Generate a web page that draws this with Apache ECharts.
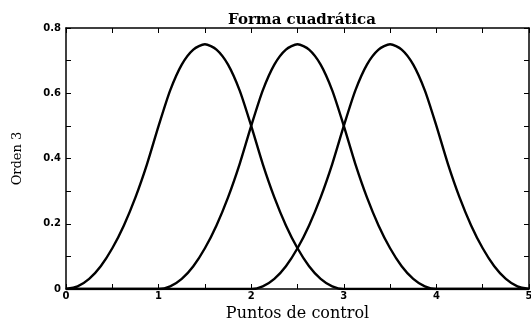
<!DOCTYPE html>
<html>
<head>
<meta charset="utf-8">
<script src="https://cdn.jsdelivr.net/npm/echarts@6/dist/echarts.min.js"></script>
<style>
  html, body { margin: 0; padding: 0; background: #fff; }
  #chart { width: 531px; height: 322px; }
</style>
</head>
<body>
<div id="chart"></div>
<script>
// Sample positions along the control-point axis (step 0.125)
const xs = [
  0, 0.125, 0.25, 0.375, 0.5, 0.625, 0.75, 0.875,
  1, 1.125, 1.25, 1.375, 1.5, 1.625, 1.75, 1.875,
  2, 2.125, 2.25, 2.375, 2.5, 2.625, 2.75, 2.875,
  3, 3.125, 3.25, 3.375, 3.5, 3.625, 3.75, 3.875,
  4, 4.125, 4.25, 4.375, 4.5, 4.625, 4.75, 4.875, 5
];

// Three quadratic basis functions (order 3)
const basis1 = [
  0, 0.008, 0.031, 0.070, 0.125, 0.195, 0.281, 0.383,
  0.5, 0.609, 0.688, 0.734, 0.75, 0.734, 0.688, 0.609,
  0.5, 0.383, 0.281, 0.195, 0.125, 0.070, 0.031, 0.008,
  0, 0, 0, 0, 0, 0, 0, 0,
  0, 0, 0, 0, 0, 0, 0, 0, 0
];
const basis2 = [
  0, 0, 0, 0, 0, 0, 0, 0,
  0, 0.008, 0.031, 0.070, 0.125, 0.195, 0.281, 0.383,
  0.5, 0.609, 0.688, 0.734, 0.75, 0.734, 0.688, 0.609,
  0.5, 0.383, 0.281, 0.195, 0.125, 0.070, 0.031, 0.008,
  0, 0, 0, 0, 0, 0, 0, 0, 0
];
const basis3 = [
  0, 0, 0, 0, 0, 0, 0, 0,
  0, 0, 0, 0, 0, 0, 0, 0,
  0, 0.008, 0.031, 0.070, 0.125, 0.195, 0.281, 0.383,
  0.5, 0.609, 0.688, 0.734, 0.75, 0.734, 0.688, 0.609,
  0.5, 0.383, 0.281, 0.195, 0.125, 0.070, 0.031, 0.008, 0
];

const xTickLabels = ['0', '1', '2', '3', '4', '5'];
const yTickLabels = ['0', '0.2', '0.4', '0.6', '0.8'];

const pairs = arr => xs.map((x, i) => [x, arr[i]]);

const tickFont = { fontFamily: 'DejaVu Sans', fontWeight: 'bold', fontSize: 10, color: '#000' };

function lineSeries(arr) {
  return {
    type: 'line',
    data: pairs(arr),
    smooth: 0.25,
    showSymbol: false,
    lineStyle: { color: '#000', width: 2.4 },
    z: 3
  };
}

// Axis with a solid frame line and short inward ticks
function frameAxis(extra) {
  return Object.assign({
    axisLine: { show: true, onZero: false, lineStyle: { color: '#000', width: 1.5 } },
    axisTick: { show: true, inside: true, length: 5, lineStyle: { color: '#000', width: 1 } },
    splitLine: { show: false }
  }, extra);
}

const chart = echarts.init(document.getElementById('chart'), null, { renderer: 'canvas' });
chart.setOption({
  backgroundColor: '#fff',
  animation: false,
  title: {
    text: 'Forma cuadrática',
    left: 297, top: 8, textAlign: 'center',
    textStyle: { fontFamily: 'DejaVu Serif', fontWeight: 'bold', fontSize: 15, color: '#000' }
  },
  grid: { left: 66, right: 2, top: 28, bottom: 33, containLabel: false, outerBoundsMode: 'none' },
  xAxis: [
    frameAxis({
      type: 'value', min: 0, max: 5, interval: 0.5,
      name: 'Puntos de control', nameLocation: 'middle', nameGap: 6,
      nameTextStyle: { fontFamily: 'DejaVu Serif', fontSize: 16, color: '#000' },
      axisLabel: Object.assign({ margin: 2, formatter: v => Number.isInteger(v) ? xTickLabels[v] : '' }, tickFont)
    }),
    frameAxis({ type: 'value', min: 0, max: 5, interval: 0.5, position: 'top', axisLabel: { show: false } })
  ],
  yAxis: [
    frameAxis({
      type: 'value', min: 0, max: 0.8, interval: 0.1,
      name: 'Orden 3', nameLocation: 'middle', nameGap: 42,
      nameTextStyle: { fontFamily: 'DejaVu Serif', fontSize: 13, color: '#000' },
      axisLabel: Object.assign({
        margin: 5,
        formatter: v => {
          const k = Math.round(v * 5);
          return Math.abs(v * 5 - k) < 1e-6 ? yTickLabels[k] : '';
        }
      }, tickFont)
    }),
    frameAxis({ type: 'value', min: 0, max: 0.8, interval: 0.1, position: 'right', axisLabel: { show: false } })
  ],
  series: [lineSeries(basis1), lineSeries(basis2), lineSeries(basis3)]
});
</script>
</body>
</html>
